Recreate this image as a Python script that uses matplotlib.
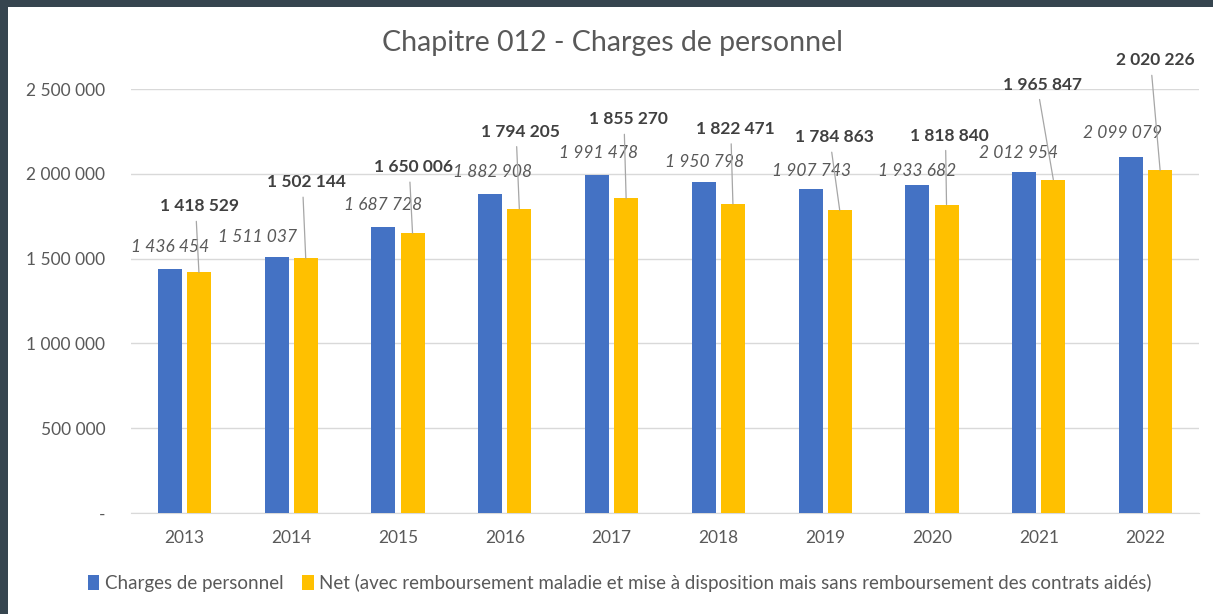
import numpy as np
import matplotlib
matplotlib.use("Agg")
import matplotlib.pyplot as plt
from matplotlib.patches import Rectangle
from matplotlib.ticker import FuncFormatter, MultipleLocator

plt.rcParams['font.family'] = ['Lato', 'DejaVu Sans']

# data
years = ["2013", "2014", "2015", "2016", "2017", "2018", "2019", "2020", "2021", "2022"]
charges = [1436454, 1511037, 1687728, 1882908, 1991478, 1950798, 1907743, 1933682, 2012954, 2099079]
net = [1418529, 1502144, 1650006, 1794205, 1855270, 1822471, 1784863, 1818840, 1965847, 2020226]

title = "Chapitre 012 - Charges de personnel"
name_charges = "Charges de personnel"
name_net = "Net (avec remboursement maladie et mise à disposition mais sans remboursement des contrats aidés)"

# label offsets from bar tops (pixels), as placed by hand in the original
blue_off = [(0, 22), (-19, 20), (0, 22), (2, 22), (1, 22), (1, 20), (1, 18), (0, 14), (-6, 19), (-9, 24)]
yellow_off = [(1, 66), (1, 76), (1, 66), (1, 77), (2, 79), (2, 75), (-5, 73), (3, 69), (-11, 95), (-5, 110)]

BLUE = "#4472C4"
YELLOW = "#FFC000"
GREY = "#595959"


def fmt(v):
    return f"{v:,.0f}".replace(",", " ")


W, H = 1213, 614
fig = plt.figure(figsize=(W / 100, H / 100), dpi=100, facecolor="#36454f")
fig.patches.append(Rectangle((8 / W, 0), 1 - 8 / W, 1 - 7 / H, transform=fig.transFigure,
                             facecolor="white", edgecolor="none", zorder=-10))

ax = fig.add_axes([131 / W, 1 - 513 / H, (1199 - 131) / W, (513 - 89) / H])
ax.set_facecolor("none")

x = np.arange(len(years))
bw = 0.225
off = 0.136
b1 = ax.bar(x - off, charges, bw, color=BLUE, label=name_charges, zorder=3)
b2 = ax.bar(x + off, net, bw, color=YELLOW, label=name_net, zorder=3)

for i in range(len(years)):
    ax.annotate(fmt(charges[i]), (x[i] - off, charges[i]), xytext=blue_off[i],
                textcoords="offset pixels", ha="center", va="center",
                fontsize=12.5, style="italic", color=GREY, zorder=5)
    ax.annotate(fmt(net[i]), (x[i] + off, net[i]), xytext=yellow_off[i],
                textcoords="offset pixels", ha="center", va="center",
                fontsize=12.5, fontweight="bold", color="#404040", zorder=5,
                arrowprops=dict(arrowstyle="-", color="#a6a6a6", lw=0.9,
                                shrinkA=3, shrinkB=0, relpos=(0.45, 0)))

ax.set_xlim(-0.5, len(years) - 0.5)
ax.set_ylim(0, 2500000)
ax.yaxis.set_major_locator(MultipleLocator(500000))
ax.yaxis.set_major_formatter(FuncFormatter(lambda v, p: "-" if v == 0 else fmt(v)))
ax.set_xticks(x)
ax.set_xticklabels(years)
ax.tick_params(axis="both", length=0, labelsize=12.5, labelcolor=GREY)
ax.tick_params(axis="y", pad=18.5)
ax.tick_params(axis="x", pad=12)
ax.grid(axis="y", color="#d9d9d9", lw=1, zorder=0)
for s in ["top", "right", "left"]:
    ax.spines[s].set_visible(False)
ax.spines["bottom"].set_color("#d9d9d9")

fig.text(613 / W, 1 - 43 / H, title, ha="center", va="center", fontsize=20.5, color=GREY)
fig.legend(handles=[b1, b2], loc="center", bbox_to_anchor=(620 / W, 1 - 583 / H), ncol=2,
           frameon=False, fontsize=13.5, labelcolor=GREY, handlelength=0.6, handleheight=0.9,
           handletextpad=0.3, columnspacing=1.0)

fig.savefig("out.png", dpi=100, facecolor=fig.get_facecolor())
